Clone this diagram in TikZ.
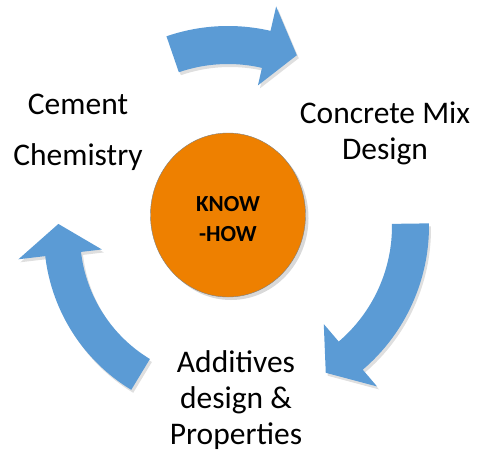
\documentclass[tikz,border=0pt]{standalone}
\usepackage{fontspec}
\setmainfont{Carlito}
\usetikzlibrary{shapes.geometric,shadows}
\definecolor{cycleblue}{RGB}{91,155,213}
\definecolor{knoworange}{RGB}{238,128,0}

\begin{document}
\begin{tikzpicture}[x=1pt, y=-1pt,
    phase/.style={align=center, font=\fontsize{31.5}{36}\selectfont},
    cyclearrow/.style={fill=cycleblue, drop shadow={opacity=0.25, shadow xshift=2pt, shadow yshift=-3pt}}]

    \useasboundingbox (0,0) rectangle (481,452);

    \node[ellipse, draw=gray, fill=knoworange, minimum width=155pt, minimum height=164pt,
          drop shadow={opacity=0.3, shadow xshift=3pt, shadow yshift=-3pt}] (core) at (228,215) {};
    \node[align=center, font=\fontsize{23}{30}\selectfont\bfseries] (knowhow) at (228,219) {KNOW\\-HOW};

    \node[phase, font=\fontsize{31.5}{51}\selectfont] (cement) at (78,132) {Cement\\Chemistry};
    \node[phase] (mix) at (385,133) {Concrete Mix\\Design};
    \node[phase] (additives) at (236,400) {Additives\\design \&\\Properties};

    % top arrow
    \begin{scope}[shift={(228,215)}]
        \fill[cyclearrow] (-109:189) arc[start angle=-109, end angle=-77, radius=189] -- (-77:214) -- (-66.7:174)
            -- (-77:133) -- (-77:151) arc[start angle=-77, end angle=-109, radius=151] -- cycle;
    \end{scope}
    % right arrow
    \begin{scope}[shift={(240,226)}]
        \fill[cyclearrow] (-0.8:189) arc[start angle=-0.8, end angle=49.5, radius=189] -- (49.5:211) -- (59.7:170)
            -- (49.5:129) -- (49.5:152) arc[start angle=49.5, end angle=-0.8, radius=152] -- cycle;
    \end{scope}
    % left arrow
    \begin{scope}[shift={(225,235)}]
        \fill[cyclearrow] (121.2:181) arc[start angle=121.2, end angle=173.3, radius=181] -- (173.3:208) -- (183.8:167)
            -- (173.3:124) -- (173.3:145) arc[start angle=173.3, end angle=121.2, radius=145] -- cycle;
    \end{scope}

\end{tikzpicture}
\end{document}
